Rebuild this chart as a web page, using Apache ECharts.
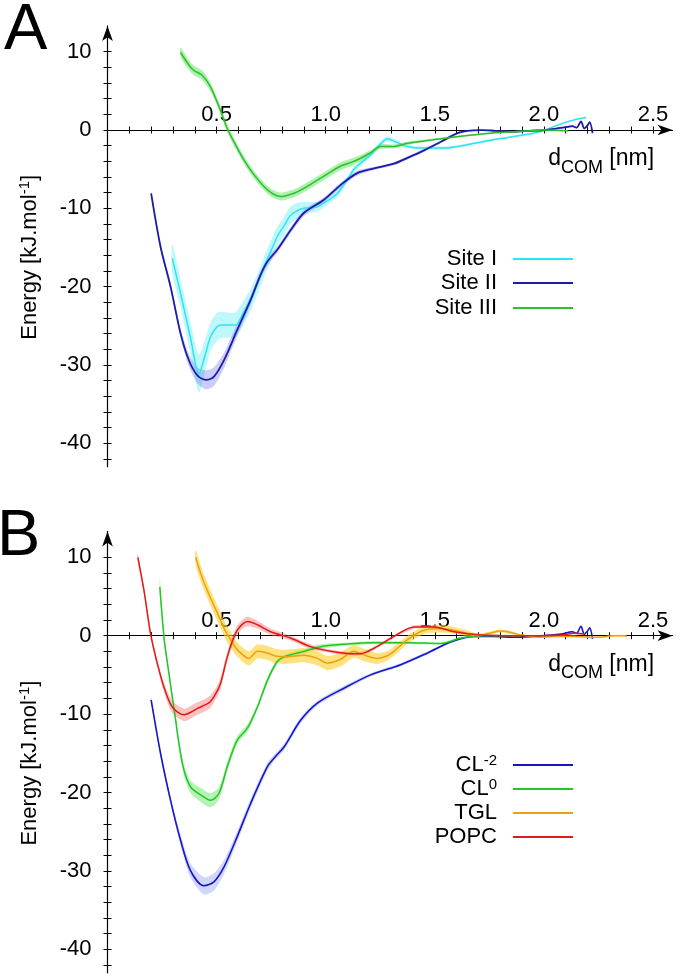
<!DOCTYPE html>
<html><head><meta charset="utf-8">
<script src="https://cdn.jsdelivr.net/npm/echarts@6/dist/echarts.min.js"></script>
<style>html,body{margin:0;padding:0;background:#fff}#c{width:685px;height:977px}</style>
</head><body><div id="c"></div>
<script>
// ---- data: [d_COM (nm), Energy (kJ/mol), error half-width] ----
const siteI = [[0.297,-16.4,1.8],[0.34,-21.5,1.8],[0.38,-26.5,2.0],[0.419,-31.1,2.4],[0.45,-28.5,2.0],[0.472,-26.4,1.8],[0.50,-25.2,1.8],[0.518,-24.9,1.7],[0.55,-24.9,1.6],[0.587,-24.9,1.6],[0.62,-23.5,1.5],[0.656,-21.7,1.4],[0.69,-19.5,1.3],[0.717,-17.5,1.3],[0.75,-15.4,1.3],[0.778,-13.6,1.2],[0.81,-12.2,1.2],[0.839,-10.9,1.1],[0.87,-10.3,1.0],[0.9,-10.0,0.8],[0.93,-9.9,0.7],[0.962,-9.8,0.6],[1.01,-9.0,0.5],[1.053,-8.1,0.5],[1.10,-6.3,0.4],[1.13,-5.0,0.4],[1.17,-4.0,0.3],[1.206,-3.2,0.3],[1.25,-1.8,0.3],[1.283,-1.1,0.3],[1.32,-1.5,0.3],[1.375,-2.1,0.2],[1.44,-2.3,0.2],[1.497,-2.3,0.2],[1.55,-2.3,0.2],[1.604,-2.1,0.2],[1.68,-1.7,0.15],[1.757,-1.3,0.15],[1.87,-0.8,0.1],[1.986,-0.2,0.1],[2.06,0.6,0.1],[2.139,1.3,0.1],[2.193,1.6,0.1]];
const siteII = [[0.2,-8.1,0.3],[0.243,-14.9,0.4],[0.289,-20.0,0.5],[0.335,-26.0,0.6],[0.373,-29.4,0.8],[0.411,-31.3,1.0],[0.45,-31.9,1.2],[0.488,-31.5,1.2],[0.534,-29.4,1.0],[0.595,-25.5,0.8],[0.656,-21.7,0.6],[0.70,-18.6,0.5],[0.733,-16.8,0.5],[0.778,-15.3,0.4],[0.839,-12.8,0.4],[0.9,-10.6,0.4],[0.992,-8.9,0.3],[1.069,-7.0,0.3],[1.145,-5.5,0.3],[1.222,-4.9,0.2],[1.313,-4.3,0.2],[1.38,-3.5,0.2],[1.451,-2.6,0.2],[1.528,-1.5,0.15],[1.604,-0.4,0.15],[1.65,-0.1,0.1],[1.711,0.0,0.1],[1.78,-0.1,0.1],[1.864,-0.2,0.1],[1.93,-0.1,0.1],[2.0,0.0,0.1],[2.06,0.2,0.1],[2.108,0.4,0.1],[2.13,0.5,0.1],[2.15,0.3,0.1],[2.17,1.1,0.1],[2.185,0.2,0.1],[2.2,0.6,0.1],[2.21,1.0,0.1],[2.223,-0.4,0.1]];
const siteIII = [[0.335,9.9,0.6],[0.373,8.3,0.6],[0.396,7.6,0.6],[0.434,7.0,0.6],[0.472,5.5,0.55],[0.511,3.0,0.5],[0.549,0.2,0.5],[0.587,-1.9,0.5],[0.625,-3.8,0.5],[0.671,-5.7,0.5],[0.717,-7.2,0.5],[0.755,-8.1,0.5],[0.794,-8.5,0.5],[0.83,-8.3,0.5],[0.87,-7.9,0.5],[0.915,-7.2,0.5],[0.962,-6.4,0.5],[1.02,-5.4,0.5],[1.069,-4.6,0.5],[1.12,-4.1,0.45],[1.16,-3.6,0.4],[1.206,-2.9,0.35],[1.25,-2.1,0.3],[1.31,-2.1,0.25],[1.375,-1.7,0.2],[1.45,-1.4,0.15],[1.53,-1.1,0.15],[1.65,-0.7,0.1],[1.757,-0.4,0.1],[1.88,-0.2,0.1],[2.0,0.0,0.1],[2.11,-0.1,0.1]];
const cl2 = [[0.2,-8.2,0.3],[0.243,-15.0,0.4],[0.289,-21.0,0.5],[0.335,-26.1,0.7],[0.381,-30.0,0.9],[0.442,-31.9,1.1],[0.488,-31.4,1.1],[0.534,-29.5,0.9],[0.595,-25.6,0.7],[0.656,-21.4,0.6],[0.733,-16.7,0.5],[0.77,-15.4,0.4],[0.809,-14.2,0.4],[0.885,-10.8,0.4],[0.962,-8.6,0.3],[1.084,-6.7,0.3],[1.206,-5.0,0.2],[1.344,-3.7,0.2],[1.467,-2.2,0.2],[1.573,-0.8,0.15],[1.68,-0.1,0.1],[1.78,-0.1,0.1],[1.86,-0.2,0.1],[1.95,-0.1,0.1],[2.0,0.0,0.1],[2.08,0.2,0.1],[2.13,0.5,0.1],[2.15,0.3,0.1],[2.17,1.2,0.1],[2.185,0.2,0.1],[2.2,0.6,0.1],[2.21,1.0,0.1],[2.223,-0.4,0.1]];
const cl0 = [[0.24,6.2,1.2],[0.26,-0.5,0.5],[0.28,-4.5,0.5],[0.295,-7.5,0.5],[0.31,-10.3,0.5],[0.327,-13.7,0.6],[0.35,-17.1,0.7],[0.381,-19.3,0.8],[0.427,-20.3,0.9],[0.472,-21.0,0.9],[0.511,-20.1,0.8],[0.549,-16.7,0.6],[0.595,-13.3,0.5],[0.641,-11.8,0.5],[0.687,-9.1,0.4],[0.733,-5.7,0.4],[0.778,-3.3,0.3],[0.809,-2.7,0.3],[0.9,-2.0,0.3],[0.977,-1.4,0.3],[1.084,-1.1,0.2],[1.206,-0.9,0.2],[1.375,-0.9,0.15],[1.528,-1.0,0.1],[1.62,-0.3,0.1],[1.711,0.0,0.1],[1.8,0.0,0.1],[1.9,0.0,0.1]];
const tgl = [[0.404,10.0,1.0],[0.43,7.7,1.0],[0.457,5.8,1.0],[0.49,3.7,1.0],[0.518,2.0,1.0],[0.54,0.6,1.0],[0.564,-0.5,1.0],[0.587,-1.5,0.9],[0.61,-2.2,0.9],[0.648,-2.9,0.9],[0.687,-2.0,0.9],[0.733,-2.2,0.9],[0.77,-2.6,0.9],[0.809,-2.7,0.9],[0.86,-2.6,0.9],[0.9,-2.5,0.9],[0.962,-2.9,0.9],[1.008,-3.5,0.9],[1.069,-3.0,0.9],[1.13,-2.0,0.8],[1.17,-2.4,0.8],[1.237,-2.9,0.7],[1.28,-2.6,0.6],[1.313,-2.0,0.6],[1.375,-0.5,0.5],[1.451,0.7,0.5],[1.528,0.9,0.5],[1.62,0.5,0.4],[1.696,0.0,0.3],[1.75,0.3,0.2],[1.80,0.6,0.2],[1.85,0.4,0.2],[1.89,0.1,0.15],[1.98,-0.2,0.1],[2.06,-0.1,0.1],[2.14,-0.1,0.1],[2.2,-0.2,0.1],[2.26,-0.2,0.1],[2.32,0.0,0.1],[2.37,0.0,0.1],[2.38,-0.1,0.1]];
const popc = [[0.139,10.0,0.5],[0.167,5.8,0.5],[0.197,0.3,0.5],[0.228,-3.5,0.5],[0.258,-6.5,0.6],[0.297,-9.1,0.8],[0.35,-10.1,0.8],[0.38,-9.8,0.8],[0.411,-9.3,0.8],[0.45,-8.8,0.8],[0.472,-8.4,0.8],[0.50,-7.2,0.7],[0.518,-6.1,0.7],[0.549,-2.7,0.6],[0.575,-0.5,0.6],[0.595,0.7,0.6],[0.62,1.5,0.6],[0.641,1.8,0.6],[0.687,1.4,0.5],[0.748,0.5,0.4],[0.839,-0.3,0.3],[0.931,-1.4,0.3],[1.023,-2.0,0.2],[1.115,-2.3,0.2],[1.16,-2.3,0.2],[1.222,-1.6,0.2],[1.313,-0.1,0.2],[1.405,1.1,0.2],[1.497,1.1,0.2],[1.589,0.5,0.15],[1.711,0.1,0.1],[1.85,0.0,0.1],[1.98,0.0,0.1],[2.08,0.1,0.1],[2.14,0.3,0.1],[2.19,0.2,0.1]];

const xTickVals = [0.1,0.2,0.3,0.4,0.5,0.6,0.7,0.8,0.9,1.0,1.1,1.2,1.3,1.4,1.5,1.6,1.7,1.8,1.9,2.0,2.1,2.2,2.3,2.4,2.5];
const xLabelVals = [0.5,1.0,1.5,2.0,2.5];
const yTickVals = [-42,-40,-38,-36,-34,-32,-30,-28,-26,-24,-22,-20,-18,-16,-14,-12,-10,-8,-6,-4,-2,0,2,4,6,8,10];
const yLabelVals = [-40,-30,-20,-10,0,10];

const FONT = '"Liberation Sans", Arial, Helvetica, sans-serif';
const X_MAX = 2.59, Y_MIN = -43, Y_MAX = 13.3;
const GRIDS = [
  {left: 107.5, top: 25.9, width: 565.1, height: 440.8},
  {left: 107.5, top: 531.4, width: 565.1, height: 441.4}
];
// distance (px) from the grid bottom up to the y = 0 line, derived from the axis range
function zeroOffset(gi) { return GRIDS[gi].height * (0 - Y_MIN) / (Y_MAX - Y_MIN); }

function xAxes(gi) {
  const off = -zeroOffset(gi);
  const base = {gridIndex: gi, type: 'value', min: 0, max: X_MAX, position: 'bottom', offset: off, splitLine: {show: false}};
  return [
    Object.assign({}, base, {
      axisLine: {show: true, onZero: false, symbol: ['none', 'arrow'], symbolSize: [8, 15], lineStyle: {color: '#000', width: 1.2}},
      axisTick: {show: true, inside: true, length: 3.5, customValues: xTickVals, lineStyle: {color: '#000', width: 1}},
      axisLabel: {show: true, inside: true, margin: 4, customValues: xLabelVals, formatter: v => v.toFixed(1), fontSize: 22, color: '#000', fontFamily: FONT},
      name: '{m|d}{s|COM}{m| [nm]}',
      nameLocation: 'end', nameGap: -18.5,
      nameTextStyle: {align: 'right', verticalAlign: 'middle', padding: [58, 0, 0, 0], fontFamily: FONT, color: '#000',
        rich: {m: {fontSize: 23, lineHeight: 23, verticalAlign: 'top', fontFamily: FONT, color: '#000'},
               s: {fontSize: 18, lineHeight: 18, padding: [11, 0, 0, 0], verticalAlign: 'top', fontFamily: FONT, color: '#000'}}}
    }),
    Object.assign({}, base, {
      axisLine: {show: true, onZero: false, symbol: 'none', lineStyle: {color: 'rgba(0,0,0,0)'}},
      axisTick: {show: true, inside: false, length: 3.5, customValues: xTickVals, lineStyle: {color: '#000', width: 1}},
      axisLabel: {show: false}
    })
  ];
}
function yAxes(gi) {
  const base = {gridIndex: gi, type: 'value', min: Y_MIN, max: Y_MAX, position: 'left', splitLine: {show: false}};
  return [
    Object.assign({}, base, {
      axisLine: {show: true, onZero: false, symbol: ['none', 'arrow'], symbolSize: [8, 15], lineStyle: {color: '#000', width: 1.2}},
      axisTick: {show: true, inside: false, length: 4, customValues: yTickVals, lineStyle: {color: '#000', width: 1}},
      axisLabel: {show: true, margin: 16, customValues: yLabelVals, fontSize: 22, color: '#000', fontFamily: FONT},
      name: '{m|Energy [kJ.mol}{s|-1}{m|]}',
      nameLocation: 'middle', nameGap: 66,
      nameTextStyle: {padding: [0, 22, 0, 0], fontFamily: FONT, color: '#000',
        rich: {m: {fontSize: 22, lineHeight: 24, fontFamily: FONT, color: '#000'},
               s: {fontSize: 15, lineHeight: 12, verticalAlign: 'top', fontFamily: FONT, color: '#000'}}}
    }),
    Object.assign({}, base, {
      axisLine: {show: true, onZero: false, symbol: 'none', lineStyle: {color: 'rgba(0,0,0,0)'}},
      axisTick: {show: true, inside: true, length: 4, customValues: yTickVals, lineStyle: {color: '#000', width: 1}},
      axisLabel: {show: false}
    })
  ];
}

function line(name, arr, gi, color, width) {
  return {type: 'line', name, xAxisIndex: gi * 2, yAxisIndex: gi * 2, data: arr.map(p => [p[0], p[1]]),
    symbol: 'none', showSymbol: false, smooth: 0.3, color, lineStyle: {color, width}, z: 4, clip: true, silent: true};
}
function band(name, arr, gi, fill) {
  return {type: 'custom', name: name + ' band', xAxisIndex: gi * 2, yAxisIndex: gi * 2, silent: true, z: 2, clip: true,
    data: [[arr[0][0], arr[0][1]]],
    renderItem: function (params, api) {
      const up = arr.map(p => api.coord([p[0], p[1] + p[2]]));
      const lo = arr.map(p => api.coord([p[0], p[1] - p[2]])).reverse();
      return {type: 'polygon', shape: {points: up.concat(lo), smooth: 0.25}, style: {fill: fill}};
    }};
}

const C = {
  siteI: ['#2ee4ee', 'rgba(110,238,248,0.45)'],
  siteII: ['#1b1ba8', 'rgba(110,110,235,0.35)'],
  siteIII: ['#2ebf2e', 'rgba(70,225,70,0.45)'],
  cl2: ['#1616c8', 'rgba(100,120,245,0.3)'],
  cl0: ['#22c822', 'rgba(70,225,70,0.4)'],
  tgl: ['#eba212', 'rgba(255,205,40,0.6)'],
  popc: ['#e21a1a', 'rgba(242,100,100,0.4)']
};

const legendRich = {
  m: {fontSize: 22, lineHeight: 24, fontFamily: FONT, color: '#000'},
  s: {fontSize: 15, lineHeight: 12, verticalAlign: 'top', fontFamily: FONT, color: '#000'}
};
function legendFmt(name) {
  if (name === 'CL-2') return '{m|CL}{s|-2}';
  if (name === 'CL0') return '{m|CL}{s|0}';
  return '{m|' + name + '}';
}
const legendPlaces = [['Site I', 247], ['Site II', 271], ['Site III', 296], ['CL-2', 753], ['CL0', 777], ['TGL', 801], ['POPC', 825]];

const option = {
  animation: false,
  backgroundColor: '#fff',
  grid: GRIDS,
  xAxis: xAxes(0).concat(xAxes(1)),
  yAxis: yAxes(0).concat(yAxes(1)),
  legend: legendPlaces.map(([name, top]) => ({
    data: [{name, icon: 'rect'}], orient: 'vertical', right: 112, top, align: 'right',
    itemWidth: 60, itemHeight: 2, itemGap: 0, padding: 0, selectedMode: false,
    formatter: legendFmt,
    textStyle: {fontSize: 22, lineHeight: 24, fontFamily: FONT, color: '#000', padding: [0, 11, 0, 0], rich: legendRich}
  })),
  graphic: [
    {type: 'text', left: 4, top: -1, style: {text: 'A', fontSize: 65, fontFamily: FONT, fill: '#000'}},
    {type: 'text', left: -3, top: 505, style: {text: 'B', fontSize: 65, fontFamily: FONT, fill: '#000'}}
  ],
  series: [
    band('Site I', siteI, 0, C.siteI[1]),
    band('Site II', siteII, 0, C.siteII[1]),
    band('Site III', siteIII, 0, C.siteIII[1]),
    band('CL-2', cl2, 1, C.cl2[1]),
    band('CL0', cl0, 1, C.cl0[1]),
    band('TGL', tgl, 1, C.tgl[1]),
    band('POPC', popc, 1, C.popc[1]),
    line('Site I', siteI, 0, C.siteI[0], 1.5),
    line('Site II', siteII, 0, C.siteII[0], 1.8),
    line('Site III', siteIII, 0, C.siteIII[0], 1.5),
    line('CL-2', cl2, 1, C.cl2[0], 1.6),
    line('CL0', cl0, 1, C.cl0[0], 1.5),
    line('TGL', tgl, 1, C.tgl[0], 1.5),
    line('POPC', popc, 1, C.popc[0], 1.5)
  ]
};
const chart = echarts.init(document.getElementById('c'));
chart.setOption(option);
</script>
</body></html>
